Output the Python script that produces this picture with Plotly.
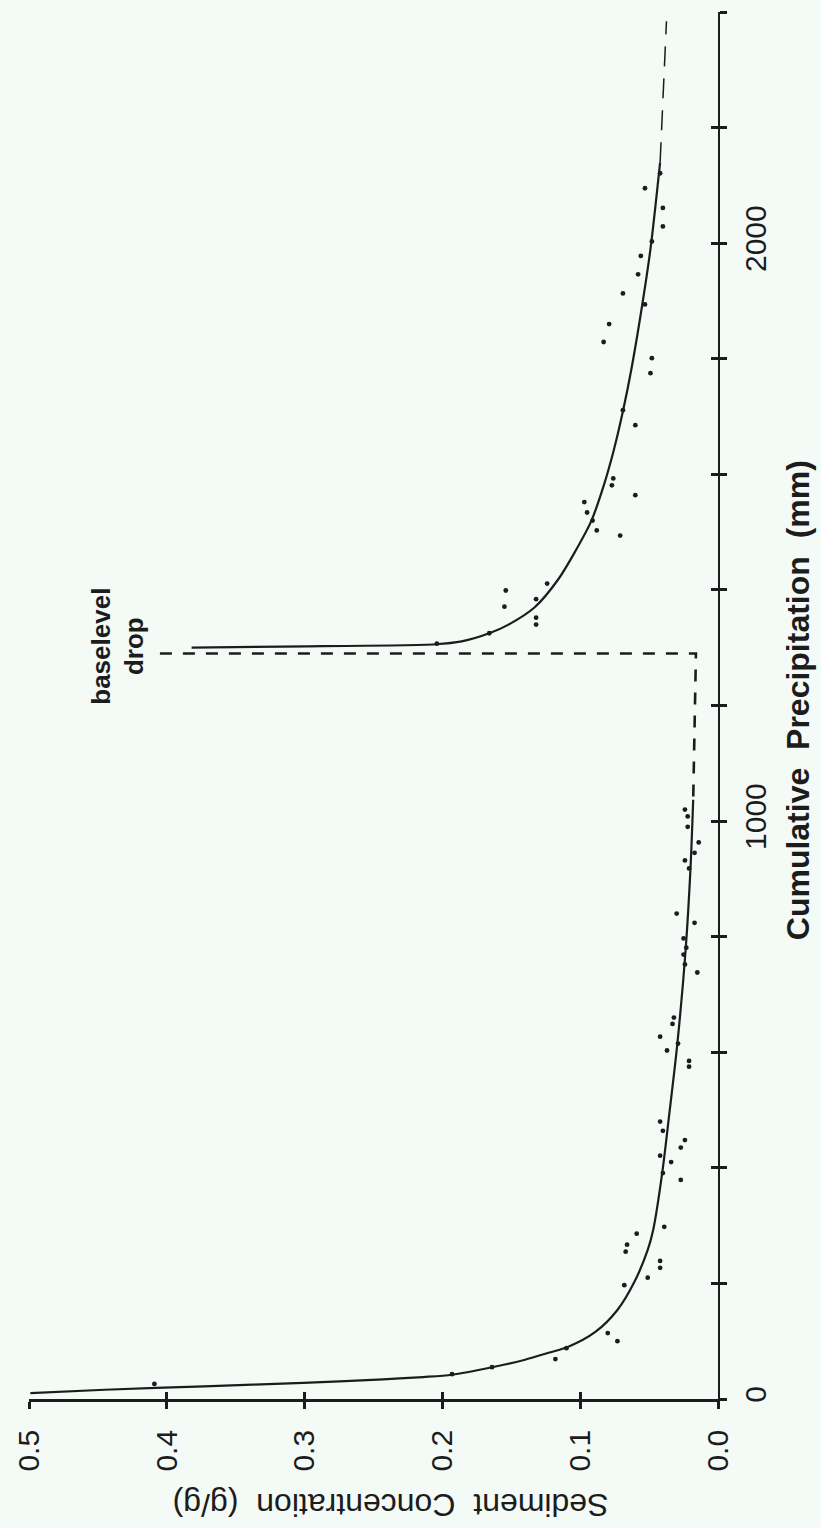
import plotly.graph_objects as go

# ---------------- data ----------------
# observed points, phase 1 (before baselevel drop)
obs1_precip = [26, 43, 55, 69, 88, 100, 114, 197, 210, 227, 239, 255, 267, 286, 298,
               379, 391, 410, 421, 435, 448, 464, 480, 575, 585, 603, 615, 627, 649,
               660, 738, 752, 769, 781, 797, 824, 840, 918, 932, 945, 963, 990, 1008, 1020]
obs1_conc = [0.409, 0.193, 0.164, 0.118, 0.110, 0.073, 0.080, 0.068, 0.051, 0.042, 0.042,
             0.067, 0.066, 0.059, 0.039, 0.027, 0.040, 0.034, 0.042, 0.027, 0.024, 0.040,
             0.042, 0.021, 0.021, 0.037, 0.029, 0.042, 0.033, 0.032, 0.015, 0.024, 0.025,
             0.023, 0.025, 0.017, 0.030, 0.021, 0.024, 0.017, 0.014, 0.022, 0.022, 0.024]

# observed points, phase 2 (after baselevel drop)
obs2_precip = [1307, 1325, 1340, 1352, 1371, 1384, 1399, 1411, 1494, 1503, 1520, 1534,
               1552, 1564, 1581, 1593, 1685, 1711, 1775, 1801, 1829, 1860, 1894, 1913,
               1946, 1978, 2003, 2029, 2061, 2095, 2121]
obs2_conc = [0.204, 0.166, 0.132, 0.132, 0.155, 0.132, 0.154, 0.124, 0.071, 0.088, 0.091,
             0.095, 0.097, 0.060, 0.077, 0.076, 0.060, 0.069, 0.049, 0.048, 0.083, 0.079,
             0.053, 0.069, 0.058, 0.056, 0.048, 0.040, 0.040, 0.053, 0.042]

# fitted curve, phase 1 (solid)
fit1_precip = [10, 16, 22, 28, 34, 38, 42, 55, 68, 80, 90, 116, 154, 201, 258, 293, 391,
               490, 615, 777, 916, 1037]
fit1_conc = [0.499, 0.445, 0.373, 0.301, 0.243, 0.214, 0.193, 0.164, 0.140, 0.123, 0.109,
             0.089, 0.073, 0.061, 0.051, 0.047, 0.0405, 0.0355, 0.0295, 0.0235, 0.020, 0.018]

# baselevel drop and projected continuation of phase 1 (dashed)
drop_precip = [1290, 1290, 1037]
drop_conc = [0.405, 0.016, 0.018]

# fitted curve, phase 2 (solid)
fit2_precip = [1300, 1302, 1306, 1311, 1325, 1340, 1370, 1418, 1465, 1519, 1580, 1643,
               1709, 1780, 1893, 1990, 2140]
fit2_conc = [0.382, 0.317, 0.205, 0.186, 0.166, 0.152, 0.133, 0.116, 0.104, 0.092,
             0.083, 0.0755, 0.069, 0.063, 0.055, 0.049, 0.042]

# extrapolation of phase 2 (dashed)
ext2_precip = [2140, 2249, 2384]
ext2_conc = [0.042, 0.040, 0.0374]

# axes ticks
conc_ticks = [0.0, 0.1, 0.2, 0.3, 0.4, 0.5]
conc_labels = ["0.0", "0.1", "0.2", "0.3", "0.4", "0.5"]
precip_ticks = [0, 200, 400, 600, 800, 1000, 1200, 1400, 1600, 1800, 2000, 2200, 2400]
precip_labels = ["0", "", "", "", "", "1000", "", "", "", "", "2000", "", ""]

# ---------------- figure ----------------
INK = "#1c1c1c"
BG = "#f4faf6"
FONT = "Liberation Sans, Arial, sans-serif"

fig = go.Figure()

fig.add_trace(go.Scatter(x=fit1_conc, y=fit1_precip, mode="lines",
                         line=dict(color=INK, width=2.2, shape="spline", smoothing=0.8),
                         hoverinfo="skip", showlegend=False))
fig.add_trace(go.Scatter(x=drop_conc, y=drop_precip, mode="lines",
                         line=dict(color=INK, width=2.6, dash="12px,11px"),
                         hoverinfo="skip", showlegend=False))
fig.add_trace(go.Scatter(x=fit2_conc, y=fit2_precip, mode="lines",
                         line=dict(color=INK, width=2.2, shape="spline", smoothing=0.8),
                         hoverinfo="skip", showlegend=False))
fig.add_trace(go.Scatter(x=ext2_conc, y=ext2_precip, mode="lines",
                         line=dict(color=INK, width=1.5, dash="20px,12px"),
                         hoverinfo="skip", showlegend=False))
fig.add_trace(go.Scatter(x=obs1_conc, y=obs1_precip, mode="markers",
                         marker=dict(color=INK, size=4.8),
                         showlegend=False))
fig.add_trace(go.Scatter(x=obs2_conc, y=obs2_precip, mode="markers",
                         marker=dict(color=INK, size=4.8),
                         showlegend=False))
# invisible trace to carry the overlay axes (inner half of crossing ticks)
fig.add_trace(go.Scatter(x=[0.25], y=[1200], xaxis="x2", yaxis="y2", mode="markers",
                         marker=dict(opacity=0), hoverinfo="skip", showlegend=False))

tickfont = dict(family=FONT, size=30, color=INK)

fig.update_layout(
    width=821, height=1528,
    margin=dict(l=23, r=103, t=12, b=129),
    paper_bgcolor=BG, plot_bgcolor=BG,
    showlegend=False,
    xaxis=dict(range=[0.5, 0.0], tickvals=conc_ticks, ticktext=conc_labels,
               tickangle=-90, ticks="outside", ticklen=7, tickwidth=2.5, tickcolor=INK,
               showline=True, linewidth=2.8, linecolor=INK, showgrid=False,
               zeroline=False, tickfont=tickfont, ticklabelstandoff=9,
               side="bottom", anchor="y"),
    yaxis=dict(range=[0, 2400], tickvals=precip_ticks, ticktext=precip_labels,
               tickangle=-90, ticks="outside", ticklen=7, tickwidth=2.5, tickcolor=INK,
               showline=True, linewidth=2.2, linecolor=INK, showgrid=False,
               zeroline=False, tickfont=tickfont, ticklabelstandoff=3,
               side="right", anchor="x"),
    xaxis2=dict(range=[0.5, 0.0], overlaying="x", tickvals=conc_ticks, ticks="inside",
                ticklen=7, tickwidth=2.5, tickcolor=INK, showticklabels=False,
                showline=False, showgrid=False, zeroline=False, side="bottom",
                anchor="y2"),
    yaxis2=dict(range=[0, 2400], overlaying="y", tickvals=precip_ticks, ticks="inside",
                ticklen=7, tickwidth=2.5, tickcolor=INK, showticklabels=False,
                showline=False, showgrid=False, zeroline=False, side="right",
                anchor="x2"),
    annotations=[
        dict(text="Cumulative  Precipitation  (mm)", xref="paper", yref="paper",
             x=1.1165, y=0.504, xanchor="center", yanchor="middle", textangle=-90,
             showarrow=False, font=dict(family=FONT, size=32, color=INK, weight="bold")),
        dict(text="Sediment  Concentration  (g/g)", xref="paper", yref="paper",
             x=0.525, y=-0.076, xanchor="center", yanchor="middle", textangle=180,
             showarrow=False, font=dict(family=FONT, size=32, color=INK)),
        dict(text="baselevel<br>drop", xref="x", yref="y", x=0.436, y=1302,
             xanchor="center", yanchor="middle", textangle=-90, showarrow=False,
             font=dict(family=FONT, size=26, color=INK, weight="bold")),
    ],
)

fig.write_html("out.html")
